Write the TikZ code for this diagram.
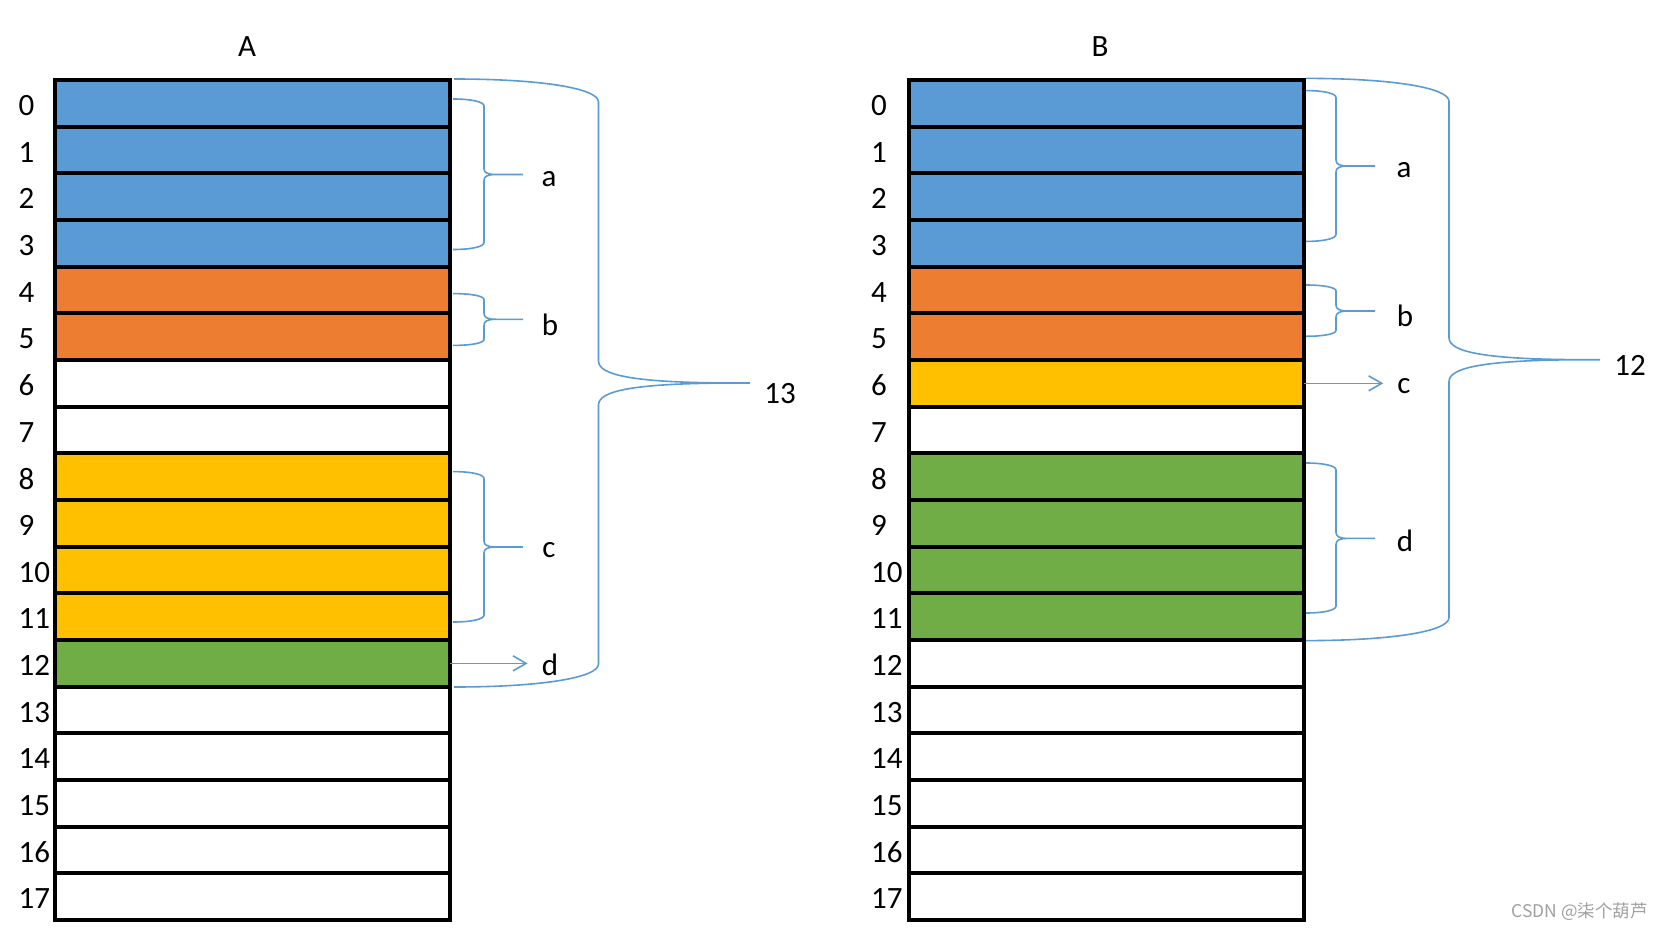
\documentclass[tikz,border=0pt]{standalone}
\usepackage{fontspec}
\setmainfont{Carlito}
\newfontfamily\cjk{Noto Sans CJK SC}
\usetikzlibrary{arrows.meta}
\definecolor{memblue}{HTML}{5B9BD5}
\definecolor{memorange}{HTML}{ED7D31}
\definecolor{memyellow}{HTML}{FFC000}
\definecolor{memgreen}{HTML}{70AD47}
\definecolor{markgray}{HTML}{A0A0A0}

% start x, spine x, tip x, top y, tip y, bottom y, end bend, middle bend, middle reach
\newcommand{\memBrace}[9]{%
  \draw[brace] (#1,#4) .. controls ({#1+0.6*(#2-#1)},#4) and (#2,{#4+0.4*#7}) .. (#2,{#4+#7})
    -- (#2,{#5-#8}) .. controls (#2,{#5-0.35*#8}) and ({#2+0.25*#9},#5) .. ({#2+#9},#5) -- (#3,#5)
    ({#2+#9},#5) .. controls ({#2+0.25*#9},#5) and (#2,{#5+0.35*#8}) .. (#2,{#5+#8})
    -- (#2,{#6-#7}) .. controls (#2,{#6-0.4*#7}) and ({#1+0.6*(#2-#1)},#6) .. (#1,#6);}

\begin{document}
\begin{tikzpicture}[x=1pt,y=-1pt,
    cell/.style={draw,line width=4pt,minimum width=395pt,minimum height=46.67pt,inner sep=0pt,outer sep=0pt},
    idx/.style={anchor=west,inner sep=0pt,font=\fontsize{31}{37}\selectfont},
    lbl/.style={inner sep=0pt,font=\fontsize{31}{37}\selectfont},
    brace/.style={draw=memblue,line width=1.6pt},
    ptr/.style={draw=memblue,line width=1.6pt,-{Straight Barb[length=13pt,width=15pt]},shorten >=14pt}
  ]
  \useasboundingbox (0,0) rectangle (1660,931);

  % memory A
  \foreach \i/\c in {0/memblue,1/memblue,2/memblue,3/memblue,4/memorange,5/memorange,
                     6/white,7/white,8/memyellow,9/memyellow,10/memyellow,11/memyellow,
                     12/memgreen,13/white,14/white,15/white,16/white,17/white}{
    \node[cell,fill=\c] (A\i) at (252.5,{103.33+46.67*\i}) {};
    \node[idx] (nA\i) at (18.5,{105.5+46.67*\i}) {\i};
  }
  % memory B
  \foreach \i/\c in {0/memblue,1/memblue,2/memblue,3/memblue,4/memorange,5/memorange,
                     6/memyellow,7/white,8/memgreen,9/memgreen,10/memgreen,11/memgreen,
                     12/white,13/white,14/white,15/white,16/white,17/white}{
    \node[cell,fill=\c] (B\i) at (1106,{103.33+46.67*\i}) {};
    \node[idx] (nB\i) at (871,{105.5+46.67*\i}) {\i};
  }

  \node[lbl] (titleA) at (247,47) {A};
  \node[lbl] (titleB) at (1100,47) {B};

  \node[lbl] (aA) at (549,179) {a};
  \node[lbl] (bA) at (550,324.5) {b};
  \node[lbl] (cA) at (549,550) {c};
  \node[lbl] (dA) at (550,665) {d};
  \node[lbl] (sumA) at (780,394) {13};

  \node[lbl] (aB) at (1404,170) {a};
  \node[lbl] (bB) at (1405,316) {b};
  \node[lbl] (cB) at (1404,386) {c};
  \node[lbl] (dB) at (1405,541) {d};
  \node[lbl] (sumB) at (1630,365) {12};

  \memBrace{453}{484}{523}{99}{174.5}{249.5}{7}{6}{12}
  \memBrace{453}{484}{523}{293.6}{319.3}{345.4}{6}{6}{12}
  \memBrace{453}{484}{523}{471.6}{547}{622}{7}{6}{12}
  \memBrace{454}{598.5}{750}{79}{383}{687}{23}{22}{140}

  \memBrace{1306}{1336}{1375}{90.6}{166}{241.4}{7}{6}{12}
  \memBrace{1306}{1336}{1375}{285}{311}{336.3}{6}{6}{12}
  \memBrace{1306}{1336}{1375}{463}{538.4}{613}{7}{6}{12}
  \memBrace{1306}{1449}{1600}{78.4}{359.7}{640.6}{23}{22}{140}

  \draw[ptr] (A12.east) -- (A12.east -| dA.west);
  \draw[ptr] (B6.east) -- (B6.east -| cB.west);

  \node[font=\cjk\fontsize{17.5}{21}\selectfont,text=markgray,anchor=east,inner sep=0pt] (mark) at (1648,912) {CSDN @柒个葫芦};
\end{tikzpicture}
\end{document}
